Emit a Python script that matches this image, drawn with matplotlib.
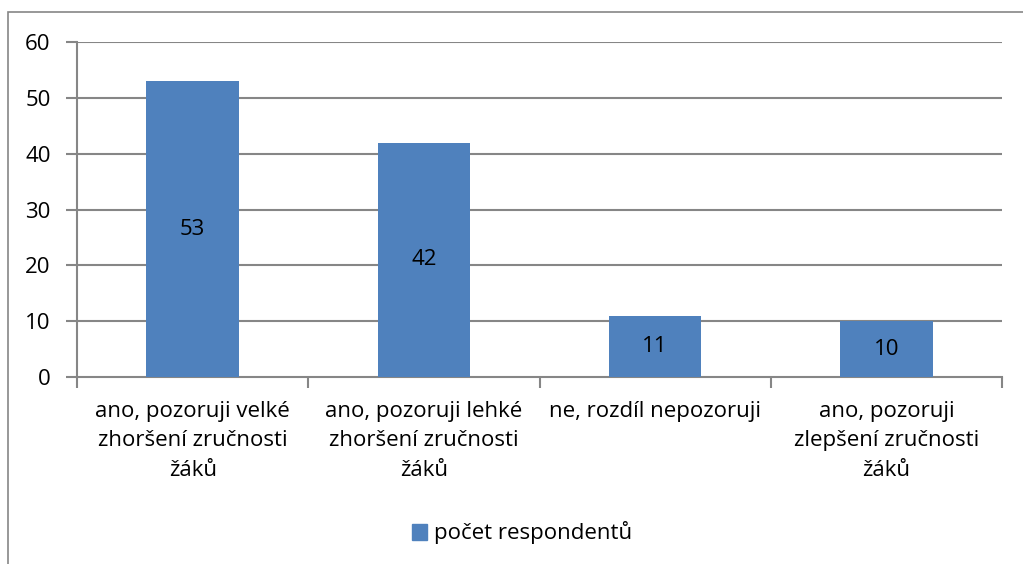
import matplotlib.pyplot as plt
from matplotlib.patches import Rectangle

categories = ["ano, pozoruji velké\nzhoršení zručnosti\nžáků",
              "ano, pozoruji lehké\nzhoršení zručnosti\nžáků",
              "ne, rozdíl nepozoruji",
              "ano, pozoruji\nzlepšení zručnosti\nžáků"]
values = [53, 42, 11, 10]
series_name = "počet respondentů"
yticks = [0, 10, 20, 30, 40, 50, 60]

plt.rcParams['font.family'] = ['Open Sans', 'DejaVu Sans']
grey = "#868686"
blue = "#4F81BD"
fs = 16

fig = plt.figure(figsize=(10.23, 5.64), dpi=100)
fig.patches.append(Rectangle((8 / 1023, -0.5), 2, 1.5 - 12 / 564, transform=fig.transFigure,
                             fill=False, edgecolor=grey, linewidth=1.2))

ax = fig.add_axes([77 / 1023, 1 - 377 / 564, 925 / 1023, 335 / 564])
x = list(range(len(values)))
ax.bar(x, values, width=0.4, color=blue, zorder=3)
for xi, v in zip(x, values):
    ax.text(xi, v / 2, str(v), ha="center", va="center", fontsize=fs, color="black", zorder=4)

ax.set_xlim(-0.5, len(values) - 0.5)
ax.set_ylim(0, 60)
ax.set_yticks(yticks)
ax.set_yticklabels([str(t) for t in yticks], fontsize=fs)
for t in yticks[1:]:
    ax.axhline(t, color=grey, linewidth=1.5, zorder=1)

ax.set_xticks([i - 0.5 for i in range(len(values) + 1)])
ax.set_xticklabels([])
ax.set_xticks(x, minor=True)
ax.set_xticklabels(categories, minor=True, fontsize=fs, linespacing=1.55)
ax.tick_params(axis="x", which="minor", length=0, pad=17)
ax.tick_params(axis="x", which="major", length=8, width=1.5, color=grey, direction="out")
ax.tick_params(axis="y", length=8, width=1.5, color=grey, direction="out", pad=11)

for s in ["top", "right"]:
    ax.spines[s].set_visible(False)
for s in ["left", "bottom"]:
    ax.spines[s].set_color(grey)
    ax.spines[s].set_linewidth(1.5)

leg = fig.legend([Rectangle((0, 0), 1, 1, color=blue)], [series_name],
                 loc="center", bbox_to_anchor=(522 / 1023, 1 - 533 / 564),
                 frameon=False, fontsize=fs, handlelength=0.7, handleheight=0.7,
                 handletextpad=0.3)

fig.savefig("out.png", dpi=100)
